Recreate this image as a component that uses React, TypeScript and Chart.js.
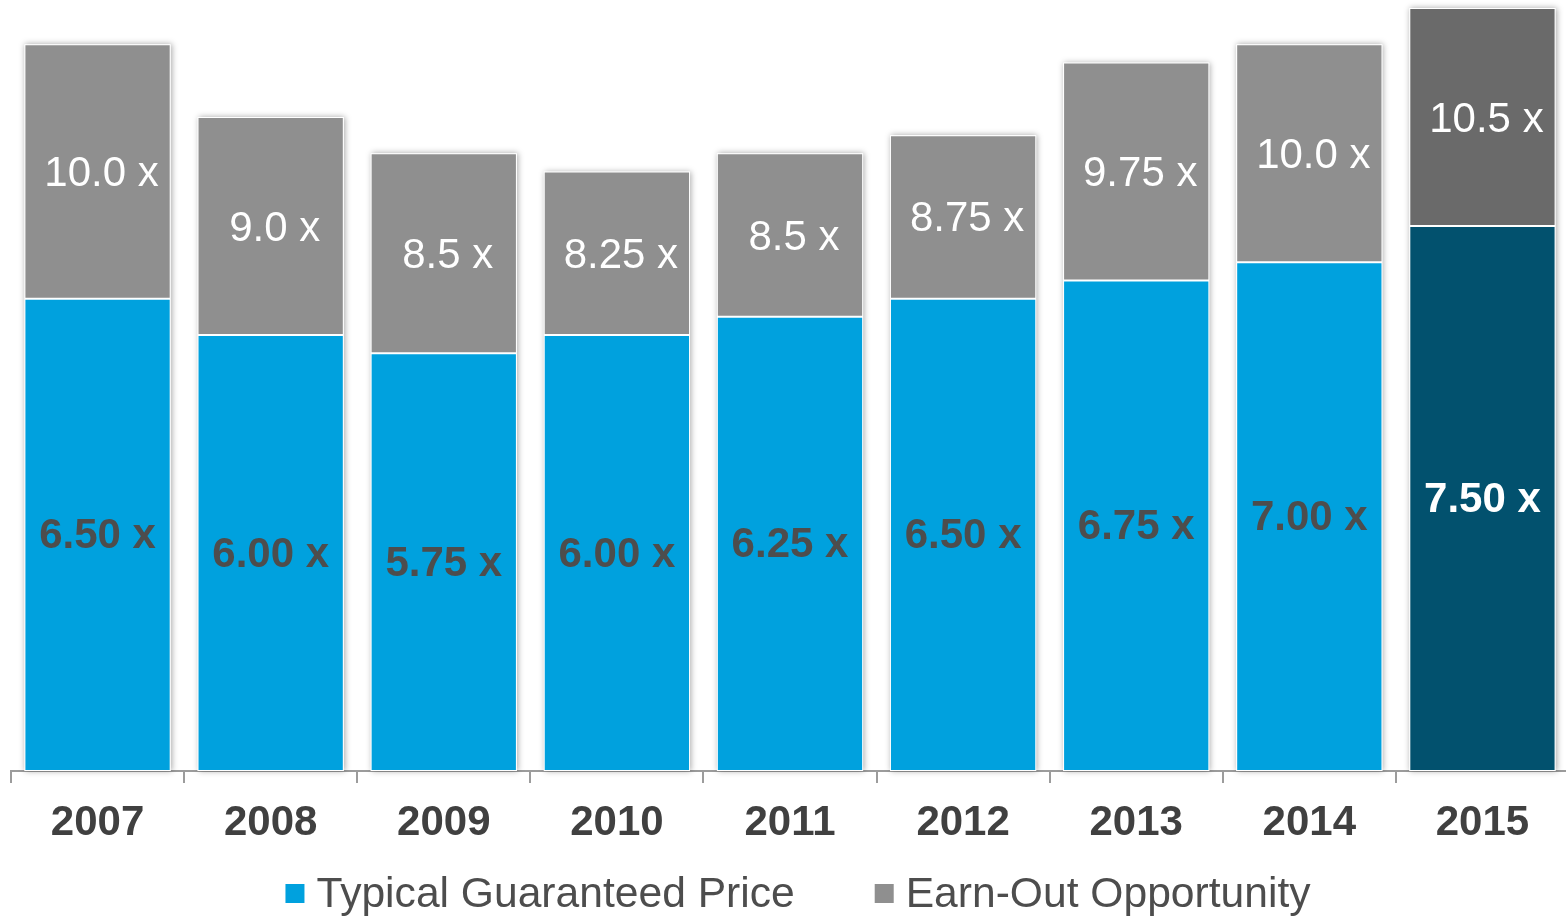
import React, { useEffect, useRef } from "react";
import { Chart, registerables } from "chart.js";

Chart.register(...registerables);

const categories = ["2007", "2008", "2009", "2010", "2011", "2012", "2013", "2014", "2015"];
const guaranteedPrice = [6.5, 6.0, 5.75, 6.0, 6.25, 6.5, 6.75, 7.0, 7.5];
const earnOutTotal = [10.0, 9.0, 8.5, 8.25, 8.5, 8.75, 9.75, 10.0, 10.5];
const seriesNames = ["Typical Guaranteed Price", "Earn-Out Opportunity"];

const FONT = "'Liberation Sans', Arial, sans-serif";
const BLUE = "#00A1DE";
const BLUE_HI = "#02516E";
const GRAY = "#8F8F8F";
const GRAY_HI = "#6A6A6A";
const TEXT = "#4D4D4D";

const fmtTotal = (v: number) => (Number.isInteger(Math.round(v * 100) / 10) ? v.toFixed(1) : v.toFixed(2));

const decorPlugin = {
  id: "decor",
  beforeDatasetsDraw(chart: any) {
    const ctx = chart.ctx;
    const m0 = chart.getDatasetMeta(0);
    const m1 = chart.getDatasetMeta(1);
    ctx.save();
    ctx.shadowColor = "rgba(0,0,0,0.35)";
    ctx.shadowBlur = 6;
    ctx.shadowOffsetX = 1;
    ctx.shadowOffsetY = 0;
    ctx.fillStyle = "#ffffff";
    m0.data.forEach((el: any, i: number) => {
      const top = m1.data[i].y;
      const w = el.width;
      ctx.fillRect(el.x - w / 2, top, w, el.base - top);
    });
    ctx.restore();
  },
  afterDatasetsDraw(chart: any) {
    const ctx = chart.ctx;
    const m0 = chart.getDatasetMeta(0);
    const m1 = chart.getDatasetMeta(1);
    ctx.save();
    ctx.textAlign = "center";
    ctx.textBaseline = "middle";
    const last = categories.length - 1;
    m0.data.forEach((el: any, i: number) => {
      ctx.font = `bold 42px ${FONT}`;
      ctx.fillStyle = i === last ? "#ffffff" : TEXT;
      ctx.fillText(`${guaranteedPrice[i].toFixed(2)} x`, el.x, (el.y + el.base) / 2 + 2);
    });
    m1.data.forEach((el: any, i: number) => {
      ctx.font = `42px ${FONT}`;
      ctx.fillStyle = "#ffffff";
      ctx.fillText(`${fmtTotal(earnOutTotal[i])} x`, el.x + 4, (el.y + el.base) / 2 + 3);
    });
    ctx.restore();
  },
  afterDraw(chart: any) {
    const ctx = chart.ctx;
    const area = chart.chartArea;
    const items = [
      { text: seriesNames[0], color: BLUE },
      { text: seriesNames[1], color: GRAY },
    ];
    const box = 19;
    const textGap = 12;
    const itemGap = 80;
    ctx.save();
    ctx.font = `42.6px ${FONT}`;
    ctx.textBaseline = "middle";
    ctx.textAlign = "left";
    const widths = items.map((it) => ctx.measureText(it.text).width);
    const total = widths.reduce((s, w) => s + w + box + textGap, 0) + itemGap * (items.length - 1);
    let x = (area.left + area.right) / 2 + 8 - total / 2;
    const cy = 893;
    items.forEach((it, i) => {
      ctx.fillStyle = it.color;
      ctx.fillRect(x, cy - box / 2 + 0.5, box, box);
      ctx.fillStyle = TEXT;
      ctx.fillText(it.text, x + box + textGap, cy + 2);
      x += box + textGap + widths[i] + itemGap;
    });
    ctx.restore();
  },
};

export default function App() {
  const ref = useRef<HTMLCanvasElement | null>(null);

  useEffect(() => {
    if (!ref.current) return;
    const last = categories.length - 1;
    const blueColors = categories.map((_, i) => (i === last ? BLUE_HI : BLUE));
    const grayColors = categories.map((_, i) => (i === last ? GRAY_HI : GRAY));
    const earnOutIncrement = earnOutTotal.map((t, i) => t - guaranteedPrice[i]);

    const chart = new Chart(ref.current, {
      type: "bar",
      data: {
        labels: categories,
        datasets: [
          {
            label: seriesNames[0],
            data: guaranteedPrice,
            backgroundColor: blueColors,
            borderColor: "#ffffff",
            borderWidth: 1,
            borderSkipped: false,
          },
          {
            label: seriesNames[1],
            data: earnOutIncrement,
            backgroundColor: grayColors,
            borderColor: "#ffffff",
            borderWidth: 1,
            borderSkipped: false,
          },
        ],
      },
      options: {
        animation: false,
        responsive: true,
        maintainAspectRatio: false,
        layout: { padding: { top: 8, left: 11, right: 0, bottom: 0 } },
        datasets: { bar: { categoryPercentage: 1, barPercentage: 0.845 } },
        scales: {
          x: {
            stacked: true,
            offset: true,
            border: { display: true, color: "#9C9C9C", width: 2 },
            grid: {
              offset: true,
              drawOnChartArea: false,
              drawTicks: true,
              tickLength: 12,
              color: "#9C9C9C",
              lineWidth: 2,
            },
            ticks: {
              color: "#404040",
              padding: 15,
              font: { family: FONT, size: 42, weight: "bold" },
              maxRotation: 0,
              autoSkip: false,
            },
            afterFit: (scale: any) => {
              scale.height = 923 - 771;
            },
          },
          y: {
            stacked: true,
            display: false,
            min: 0,
            max: 10.5,
          },
        },
        plugins: {
          legend: { display: false },
          tooltip: { enabled: false },
        },
      },
      plugins: [decorPlugin],
    } as any);
    return () => chart.destroy();
  }, []);

  return (
    <div style={{ position: "absolute", left: 0, top: 0, width: 1566, height: 923, overflow: "hidden", background: "#ffffff" }}>
      <div style={{ position: "relative", width: 1569, height: 923 }}>
        <canvas ref={ref} />
      </div>
    </div>
  );
}
